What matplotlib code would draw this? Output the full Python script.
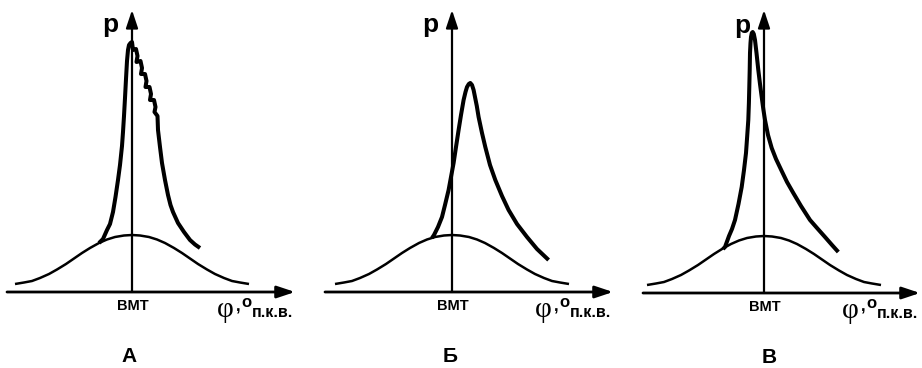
"""Schematic cylinder-pressure diagrams: knock (А), late (Б) and early (В) combustion."""
import matplotlib
matplotlib.use("Agg")
import matplotlib.pyplot as plt

W, H = 922, 368

# crank angle relative to TDC and cylinder pressure, arbitrary units
motor_phi = [-117, -108, -100, -92, -83, -75, -66, -58, -50, -42, -33, -25, -17, -8, 0,
             8, 17, 25, 33, 42, 50, 58, 66, 75, 83, 92, 100, 108, 117]
motor_p = [8, 9.5, 11, 14, 18, 22.5, 28, 33.5, 39, 44, 49, 52.5, 55, 56.5, 57,
           56.5, 55, 52.5, 49, 44, 39, 33.5, 28, 22.5, 18, 14, 11, 9.5, 8]

# А: knocking combustion
knock_phi = [-33, -29, -25, -22, -19, -16.5, -14, -12, -10, -9, -8, -7, -6, -5, -4, -3, -1.5,
             0, 1, 4, 5.5, 4.5, 8.5, 10, 9, 13, 14.5, 13.5, 17.5, 19, 18, 22, 23.5, 22.5, 25.5,
             26, 28, 30, 33, 36, 38.5, 41, 46, 52, 58, 63, 68]
knock_p = [49, 53, 62, 68, 80, 95, 112, 127, 146, 160, 176, 194, 213, 231, 242, 247, 249,
           250, 242, 243, 236, 230, 231, 224, 218, 218, 211, 205, 205, 198, 192, 192, 185, 180, 176,
           162, 145, 129, 112, 97, 87, 80, 69, 60, 52, 47.5, 44]

# Б: late combustion, peak after TDC
late_phi = [-20, -18, -14, -10, -7, -3.4, -1, 1.6, 4, 6.6, 9, 11.6, 13.5, 15, 16.8, 18.3,
             20, 21.6, 23, 24.8, 26.6, 30, 33.3, 38, 43.3, 50, 56.6, 65, 75, 85, 96.6]
late_p = [54, 57, 65, 75, 87, 102, 115, 129, 145, 162, 177, 192, 200, 205, 208, 209,
          207, 202, 195, 186, 175, 159, 145, 127, 112, 96, 82, 68, 55, 43, 32]

# В: early combustion, peak before TDC
early_phi = [-41, -39, -35, -32, -29, -25.5, -22.3, -20, -18, -16.8, -15.7, -15.1, -14.7,
             -14.3, -14, -13.5, -13, -12.2, -11.3, -10.2, -9, -7.5, -5.7, -4, -2.3, -0.7,
             1, 4, 7.7, 12, 17.7, 23, 29.3, 37, 46, 53, 61, 68, 74.3]
early_p = [44, 46, 57, 64, 73, 89, 106, 123, 140, 157, 173, 190, 206,
           223, 240, 250, 256, 260, 261, 259, 253, 240, 223, 209, 196, 184,
           173, 158, 145, 134, 122, 111, 100, 87, 73, 65, 56, 48, 41]

panel_names = ["А", "Б", "В"]
panel_curves = [(knock_phi, knock_p), (late_phi, late_p), (early_phi, early_p)]

# pixel position of the origin, axis extents and panel-label offset for each panel
origins = [(132, 292), (452, 292), (764, 293)]
x_axis = [(-125, 163), (-127, 161), (-121, 156)]
y_top = [282, 282, 283]
name_dx = [-3, -2, 5]

sans = ["Liberation Sans", "DejaVu Sans"]
serif = ["Liberation Serif", "DejaVu Serif"]

fig = plt.figure(figsize=(W / 100, H / 100), dpi=100)

for i, name in enumerate(panel_names):
    x0, y0 = origins[i]
    ax = fig.add_axes([0, 0, 1, 1])
    ax.set_xlim(-x0, W - x0)
    ax.set_ylim(-(H - y0), y0)
    ax.axis("off")
    ax.set_facecolor("none")

    ax.plot(motor_phi, motor_p, color="black", lw=1.8,
            solid_capstyle="butt", solid_joinstyle="round")
    phi, p = panel_curves[i]
    ax.plot(phi, p, color="black", lw=2.9,
            solid_capstyle="butt", solid_joinstyle="round")

    xl, xr = x_axis[i]
    arrow = dict(arrowstyle="-|>,head_length=0.9,head_width=0.3", color="black",
                 mutation_scale=12, shrinkA=0, shrinkB=0)
    ax.annotate("", xy=(xr, 0), xytext=(xl, 0), arrowprops=dict(arrow, lw=2.0))
    ax.annotate("", xy=(0, y_top[i]), xytext=(0, 0), arrowprops=dict(arrow, lw=1.6))

    ax.text(-22, 260, "p", fontsize=19, fontweight="bold", family=sans,
            ha="center", va="baseline")
    ax.text(1, -18, "ВМТ", fontsize=10.5, fontweight="bold", family=sans,
            ha="center", va="baseline")
    ax.text(xr - 78, -25, "φ", fontsize=21, family=serif, ha="left", va="baseline")
    ax.text(xr - 59, -19, ",", fontsize=12, fontweight="bold", family=sans,
            ha="left", va="baseline")
    ax.text(xr - 54, -15, "o", fontsize=12, fontweight="bold", family=sans,
            ha="left", va="baseline")
    ax.text(xr - 43, -25, "п.к.в.", fontsize=11.5, fontweight="bold", family=sans,
            ha="left", va="baseline")
    ax.text(name_dx[i], -70, name, fontsize=15, fontweight="bold", family=sans,
            ha="center", va="baseline")

fig.savefig("out.png", dpi=100, facecolor="white")
